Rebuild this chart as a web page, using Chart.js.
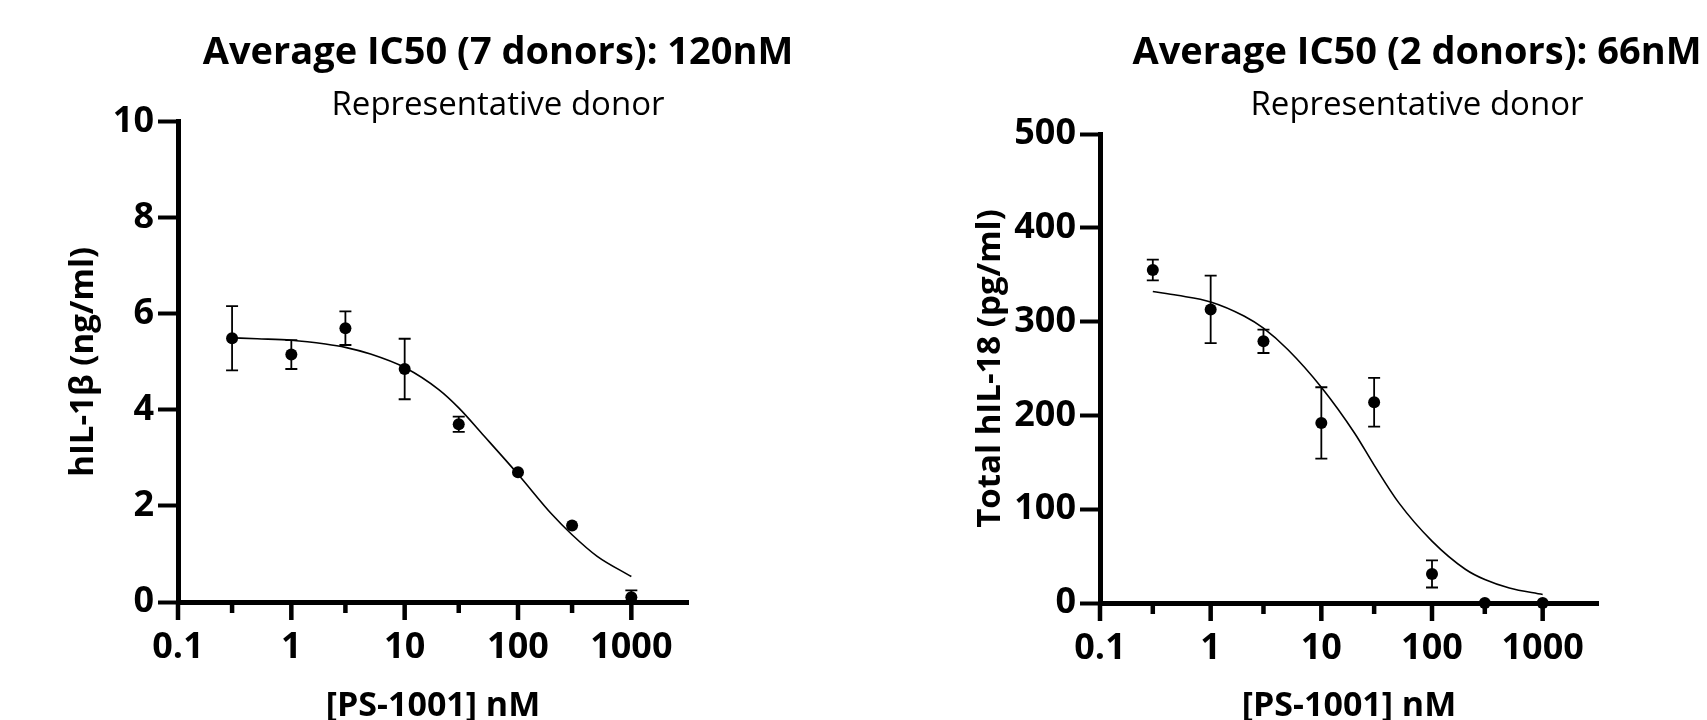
<!DOCTYPE html>
<html lang="en">

<head>
    <meta charset="UTF-8">
    <title>IC50 - PS-1001</title>
    <script src="https://cdn.jsdelivr.net/npm/chart.js"></script>
    <style>
        html, body { margin: 0; padding: 0; background: #fff; width: 1707px; height: 720px; overflow: hidden; }
        canvas { position: absolute; top: 0; }
        #grafico1 { left: 0; }
        #grafico2 { left: 960px; }
    </style>
</head>

<body>
    <canvas id="grafico1" width="996" height="720"></canvas>
    <canvas id="grafico2" width="914" height="720"></canvas>

    <script>
        // doses tested (nM)
        const doses = [0.3, 1, 3, 10, 30, 100, 300, 1000];

        // hIL-1b (ng/ml): mean and error
        const il1bMean = [5.49, 5.15, 5.70, 4.85, 3.70, 2.70, 1.59, 0.10];
        const il1bErr = [0.67, 0.30, 0.35, 0.63, 0.16, 0, 0, 0.14];

        // total hIL-18 (pg/ml): mean and error
        const il18Mean = [355, 313, 279, 192, 214, 31, 0, 0];
        const il18Err = [11, 36, 12.5, 38, 26, 14.5, 0, 0];

        // fitted curves
        const curveDoses = [0.3, 0.5, 1, 2, 3, 5, 10, 20, 30, 50, 100, 200, 300, 500, 1000];
        const il1bCurve = [5.50, 5.48, 5.45, 5.37, 5.30, 5.16, 4.88, 4.42, 4.04, 3.46, 2.66, 1.82, 1.40, 0.95, 0.53];
        const il18Curve = [332, 328, 321, 306, 293, 270, 230, 181, 147, 107, 66, 36, 25, 16, 9];

        // x axis ticks (log scale)
        const xTicks = [0.1, 0.3, 1, 3, 10, 30, 100, 300, 1000];
        const xTickLabels = ['0.1', '', '1', '', '10', '', '100', '', '1000'];
        const xMax = Math.pow(10, 3.5);

        Chart.defaults.font.family = "'Open Sans', sans-serif";
        Chart.defaults.color = '#000';

        // error bars with caps + tick marks under the x axis, placed with the chart scales
        function marcas(means, errs) {
            return {
                id: 'marcas',
                beforeDatasetsDraw(chart) {
                    const { ctx, scales } = chart;
                    ctx.save();
                    ctx.strokeStyle = '#000';
                    ctx.lineWidth = 1.8;
                    doses.forEach((d, i) => {
                        if (!errs[i]) return;
                        const px = scales.x.getPixelForValue(d);
                        const top = scales.y.getPixelForValue(means[i] + errs[i]);
                        const bot = scales.y.getPixelForValue(means[i] - errs[i]);
                        ctx.beginPath();
                        ctx.moveTo(px, top); ctx.lineTo(px, bot);
                        ctx.moveTo(px - 6, top); ctx.lineTo(px + 6, top);
                        ctx.moveTo(px - 6, bot); ctx.lineTo(px + 6, bot);
                        ctx.stroke();
                    });
                    ctx.restore();
                },
                afterDraw(chart) {
                    // long ticks at decades, short ones at 0.3, 3, 30, 300
                    const { ctx, scales } = chart;
                    const y0 = scales.y.getPixelForValue(0);
                    ctx.save();
                    ctx.fillStyle = '#000';
                    xTicks.forEach((v, i) => {
                        const px = scales.x.getPixelForValue(v);
                        ctx.fillRect(px - 2.25, y0, 4.5, xTickLabels[i] ? 18 : 11);
                    });
                    ctx.restore();
                }
            };
        }

        function desenharGrafico(id, c) {
            new Chart(document.getElementById(id), {
                type: 'scatter',
                data: {
                    datasets: [{
                        data: curveDoses.map((d, i) => ({ x: d, y: c.curve[i] })),
                        showLine: true,
                        borderColor: '#000',
                        borderWidth: 1.6,
                        pointRadius: 0,
                        cubicInterpolationMode: 'monotone',
                        clip: false
                    }, {
                        data: doses.map((d, i) => ({ x: d, y: c.means[i] })),
                        pointRadius: 6,
                        pointBackgroundColor: '#000',
                        pointBorderWidth: 0,
                        clip: false
                    }]
                },
                options: {
                    responsive: false,
                    animation: false,
                    events: [],
                    plugins: {
                        legend: { display: false },
                        tooltip: { enabled: false },
                        title: {
                            display: true,
                            text: c.title,
                            color: '#000',
                            font: { size: 38, weight: 'bold', lineHeight: 1 },
                            padding: { top: 34, bottom: 0 }
                        },
                        subtitle: {
                            display: true,
                            text: 'Representative donor',
                            color: '#000',
                            font: { size: 33, weight: 'normal', lineHeight: 0.4 },
                            padding: { top: 27.4, bottom: c.subBottom }
                        }
                    },
                    scales: {
                        x: {
                            type: 'logarithmic',
                            min: 0.1,
                            max: xMax,
                            afterBuildTicks: s => { s.ticks = xTicks.map(v => ({ value: v })); },
                            afterFit: s => { s.height = c.xHeight; },
                            ticks: {
                                autoSkip: false,
                                maxRotation: 0,
                                padding: 20,
                                color: '#000',
                                font: { size: 36, weight: 'bold', lineHeight: 1 },
                                callback: (v, i) => xTickLabels[i]
                            },
                            grid: { display: false },
                            border: { display: true, color: '#000', width: 5 },
                            title: {
                                display: true,
                                text: '[PS-1001] nM',
                                color: '#000',
                                font: { size: 34, weight: 'bold', lineHeight: 0.8 },
                                padding: 0
                            }
                        },
                        y: {
                            min: 0,
                            max: c.yMax,
                            afterFit: s => { s.width = c.yWidth; },
                            ticks: {
                                stepSize: c.yStep,
                                padding: 4,
                                color: '#000',
                                font: { size: 36, weight: 'bold' }
                            },
                            grid: {
                                display: true,
                                drawOnChartArea: false,
                                tickLength: 20,
                                tickWidth: 4,
                                tickColor: '#000'
                            },
                            border: { display: true, color: '#000', width: 5 },
                            title: {
                                display: true,
                                text: c.yTitle,
                                color: '#000',
                                font: { size: 33, weight: 'bold', lineHeight: 1 },
                                padding: { top: c.yTitlePad, bottom: 0 }
                            }
                        },
                        // empty box on the right so the titles stay centred where they are in the figure
                        pad: {
                            type: 'linear',
                            axis: 'y',
                            position: 'right',
                            afterFit: s => { s.width = c.rightPad; },
                            ticks: { display: false },
                            grid: { display: false },
                            border: { display: false }
                        }
                    }
                },
                plugins: [marcas(c.means, c.errs)]
            });
        }

        desenharGrafico('grafico1', {
            title: 'Average IC50 (7 donors): 120nM',
            yTitle: 'hIL-1β (ng/ml)',
            means: il1bMean,
            errs: il1bErr,
            curve: il1bCurve,
            yMax: 10,
            yStep: 2,
            yWidth: 178,
            rightPad: 308,
            xHeight: 118,
            yTitlePad: 67.5,
            subBottom: 9
        });

        desenharGrafico('grafico2', {
            title: 'Average IC50 (2 donors): 66nM',
            yTitle: 'Total hIL-18 (pg/ml)',
            means: il18Mean,
            errs: il18Err,
            curve: il18Curve,
            yMax: 500,
            yStep: 100,
            yWidth: 140,
            rightPad: 276,
            xHeight: 117,
            yTitlePad: 14.5,
            subBottom: 21.4
        });
    </script>
</body>

</html>
